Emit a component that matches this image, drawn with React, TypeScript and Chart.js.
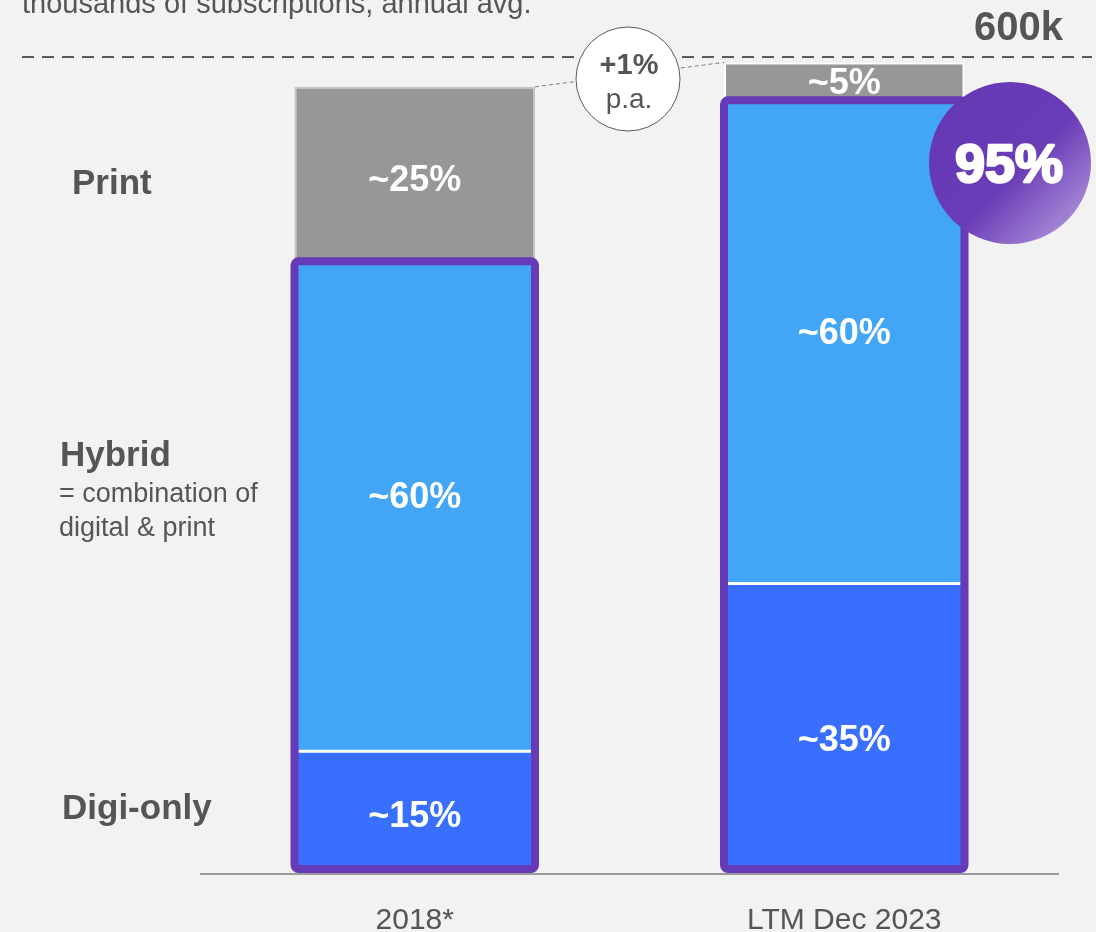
import React, { useEffect, useRef } from 'react';
import { Chart, registerables } from 'chart.js';

Chart.register(...registerables);

// ---- data (thousands of subscriptions) ----
const categories = ['2018*', 'LTM Dec 2023'];
const digiOnly = [87, 211];
const hybrid = [362, 357];
const print = [129, 28];
const digiLabels = ['~15%', '~35%'];
const hybridLabels = ['~60%', '~60%'];
const printLabels = ['~25%', '~5%'];
const yMax = 600;
const topLineLabel = '600k';
const growthLabel = ['+1%', 'p.a.'];
const digitalShareLabel = '95%';
const subtitle = 'thousands of subscriptions, annual avg.';

const FONT = '"Liberation Sans", Arial, Helvetica, sans-serif';
const TEXT = '#555555';
const PURPLE = '#673ab7';

const annotations = {
  id: 'annotations',
  beforeDatasetsDraw(chart: any) {
    const { ctx, chartArea, scales } = chart;
    const y = scales.y;
    const yTop = y.getPixelForValue(yMax);
    ctx.save();
    // dashed 600k line
    ctx.strokeStyle = '#595959';
    ctx.lineWidth = 2;
    ctx.setLineDash([12, 8]);
    ctx.beginPath();
    ctx.moveTo(22, yTop);
    ctx.lineTo(1092, yTop);
    ctx.stroke();
    // connector between bar tops
    const tops = chart.getDatasetMeta(2).data;
    const a = tops[0].getProps(['x', 'y', 'width'], true);
    const b = tops[1].getProps(['x', 'y', 'width'], true);
    ctx.strokeStyle = '#7a7a7a';
    ctx.lineWidth = 1;
    ctx.setLineDash([4, 3]);
    ctx.beginPath();
    ctx.moveTo(a.x + a.width / 2, a.y);
    ctx.lineTo(b.x - b.width / 2, b.y);
    ctx.stroke();
    // baseline
    ctx.setLineDash([]);
    ctx.strokeStyle = '#9a9a9a';
    ctx.lineWidth = 2;
    ctx.beginPath();
    ctx.moveTo(chartArea.left, chartArea.bottom + 5);
    ctx.lineTo(chartArea.right, chartArea.bottom + 5);
    ctx.stroke();
    ctx.restore();
  },
  afterDatasetsDraw(chart: any) {
    const { ctx } = chart;
    const digiMeta = chart.getDatasetMeta(0).data;
    const hybMeta = chart.getDatasetMeta(1).data;
    const printMeta = chart.getDatasetMeta(2).data;
    ctx.save();

    // separators + purple outline around digital (digi-only + hybrid)
    for (let i = 0; i < categories.length; i++) {
      const d = digiMeta[i].getProps(['x', 'y', 'base', 'width'], true);
      const h = hybMeta[i].getProps(['x', 'y', 'base', 'width'], true);
      const left = d.x - d.width / 2;
      ctx.strokeStyle = '#ffffff';
      ctx.lineWidth = 3;
      ctx.beginPath();
      ctx.moveTo(left + 4, d.y);
      ctx.lineTo(left + d.width - 4, d.y);
      ctx.stroke();

      ctx.strokeStyle = PURPLE;
      ctx.lineWidth = 8;
      ctx.beginPath();
      (ctx as any).roundRect(left, h.y, d.width, d.base - h.y, 4);
      ctx.stroke();
    }

    // segment labels (anchor = fraction of the segment from its top)
    ctx.fillStyle = '#ffffff';
    ctx.font = `bold 36px ${FONT}`;
    ctx.textAlign = 'center';
    ctx.textBaseline = 'middle';
    const sets: [any[], string[], number][] = [
      [digiMeta, digiLabels, 0.545],
      [hybMeta, hybridLabels, 0.48],
      [printMeta, printLabels, 0.53],
    ];
    sets.forEach(([meta, labels, f]) => {
      meta.forEach((el: any, i: number) => {
        const p = el.getProps(['x', 'y', 'base'], true);
        ctx.fillText(labels[i], p.x, p.y + (p.base - p.y) * f + 2);
      });
    });

    // category labels under the baseline
    const xs = chart.scales.x;
    ctx.fillStyle = TEXT;
    ctx.font = `30px ${FONT}`;
    ctx.textBaseline = 'alphabetic';
    categories.forEach((c, i) => {
      ctx.fillText(c, xs.getPixelForValue(i), 929);
    });

    // subtitle (cut at top) and 600k
    ctx.textAlign = 'left';
    ctx.font = `29px ${FONT}`;
    ctx.fillText(subtitle, 22, 13);
    ctx.textAlign = 'right';
    ctx.font = `bold 40px ${FONT}`;
    ctx.fillText(topLineLabel, 1063, 40);

    // row labels
    ctx.textAlign = 'left';
    ctx.font = `bold 35px ${FONT}`;
    ctx.fillText('Print', 72, 194);
    ctx.fillText('Hybrid', 60, 466);
    ctx.fillText('Digi-only', 62, 819);
    ctx.font = `27px ${FONT}`;
    ctx.fillText('= combination of', 59, 502);
    ctx.fillText('digital & print', 59, 536);

    // growth bubble
    const bx = 628, by = 79, br = 52;
    ctx.fillStyle = '#ffffff';
    ctx.strokeStyle = '#5a5a5a';
    ctx.lineWidth = 1;
    ctx.beginPath();
    ctx.arc(bx, by, br, 0, Math.PI * 2);
    ctx.fill();
    ctx.stroke();
    ctx.fillStyle = TEXT;
    ctx.textAlign = 'center';
    ctx.font = `bold 29px ${FONT}`;
    ctx.fillText(growthLabel[0], bx + 1, 74);
    ctx.font = `28px ${FONT}`;
    ctx.fillText(growthLabel[1], bx + 1, 108);

    // 95% circle
    const cx = 1010, cy = 163, cr = 81;
    const g = ctx.createLinearGradient(cx - cr * 0.7, cy - cr * 0.7, cx + cr * 0.75, cy + cr * 0.75);
    g.addColorStop(0, '#6538b4');
    g.addColorStop(0.55, '#6a3cb7');
    g.addColorStop(1, '#a68ad6');
    ctx.fillStyle = g;
    ctx.beginPath();
    ctx.arc(cx, cy, cr, 0, Math.PI * 2);
    ctx.fill();
    ctx.fillStyle = '#ffffff';
    ctx.strokeStyle = '#ffffff';
    ctx.lineWidth = 2.5;
    ctx.lineJoin = 'round';
    ctx.font = `bold 54px ${FONT}`;
    ctx.textAlign = 'center';
    ctx.textBaseline = 'alphabetic';
    ctx.strokeText(digitalShareLabel, cx - 1, 182);
    ctx.fillText(digitalShareLabel, cx - 1, 182);

    ctx.restore();
  },
};

export default function App() {
  const ref = useRef<HTMLCanvasElement>(null);
  useEffect(() => {
    if (!ref.current) return;
    const chart = new Chart(ref.current, {
      type: 'bar',
      data: {
        labels: categories,
        datasets: [
          { label: 'Digi-only', data: digiOnly, backgroundColor: '#386fff', borderWidth: 0 },
          { label: 'Hybrid', data: hybrid, backgroundColor: '#43a5f5', borderWidth: 0 },
          {
            label: 'Print',
            data: print,
            backgroundColor: '#979797',
            borderColor: ['#c4c4c4', '#ffffff'],
            borderWidth: 2,
          },
        ],
      },
      options: {
        responsive: false,
        animation: false,
        events: [],
        layout: { padding: { left: 200, right: 37, top: 57, bottom: 63 } },
        datasets: { bar: { barPercentage: 1, categoryPercentage: 0.56 } },
        scales: {
          x: { stacked: true, display: false },
          y: { stacked: true, display: false, min: 0, max: yMax },
        },
        plugins: { legend: { display: false }, tooltip: { enabled: false }, title: { display: false } },
      },
      plugins: [annotations],
    });
    return () => chart.destroy();
  }, []);
  return (
    <div style={{ position: 'fixed', left: 0, top: 0, width: 1096, height: 932, background: '#f2f2f2' }}>
      <canvas ref={ref} width={1096} height={932} style={{ display: 'block' }} />
    </div>
  );
}
